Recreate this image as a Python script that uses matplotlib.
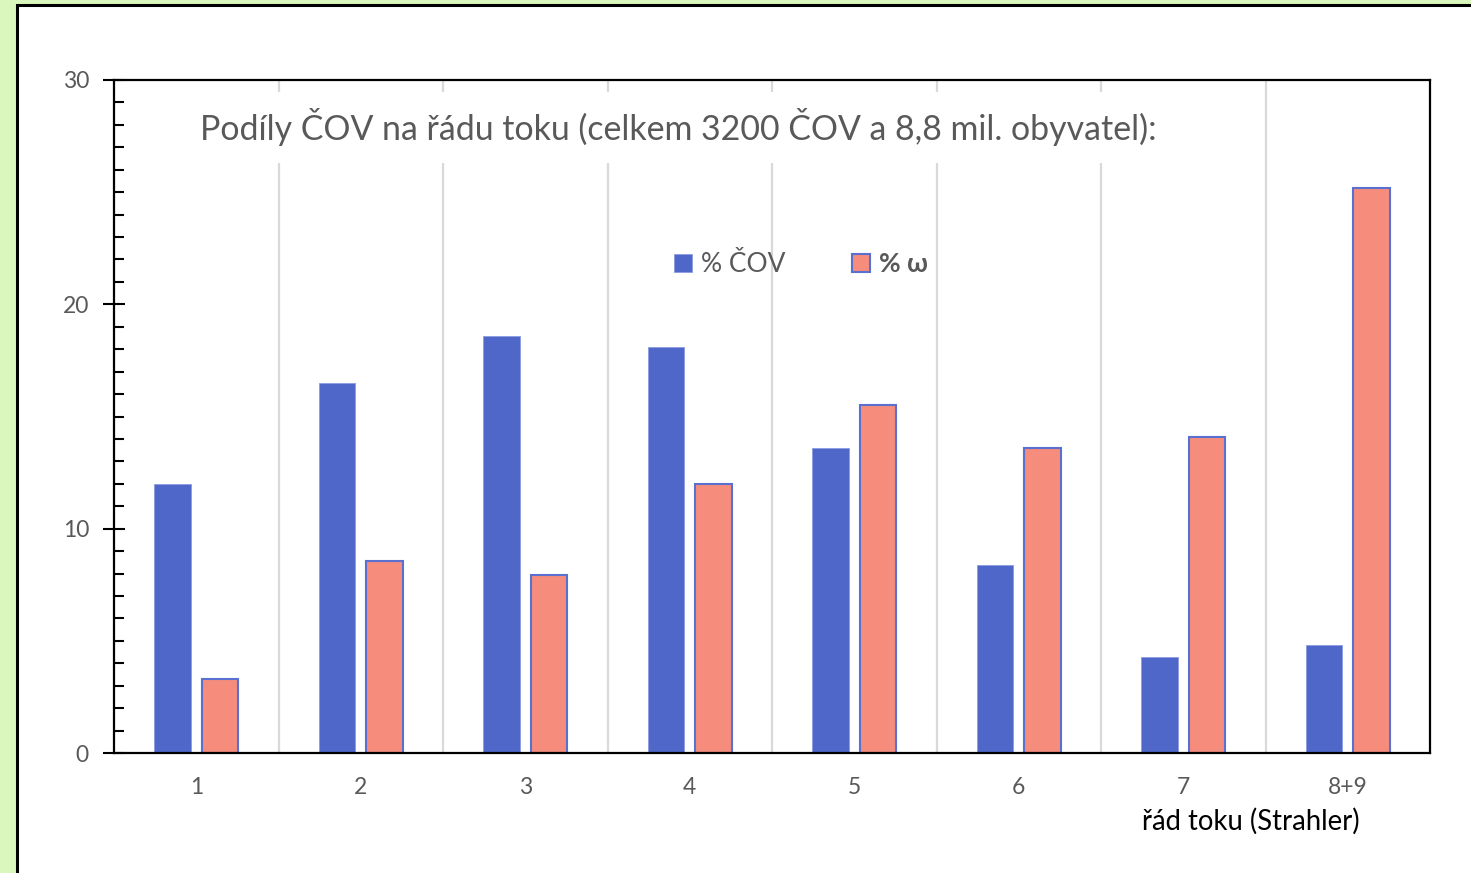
import matplotlib.pyplot as plt
import numpy as np
from matplotlib.patches import Rectangle

plt.rcParams["font.family"] = ["Lato", "DejaVu Sans"]

# Strahler stream order categories
categories = ["1", "2", "3", "4", "5", "6", "7", "8+9"]
pct_cov = [12.0, 16.5, 18.6, 18.1, 13.6, 8.4, 4.3, 4.8]
pct_omega = [3.3, 8.55, 7.95, 12.0, 15.5, 13.6, 14.1, 25.2]

BLUE = "#4F67C8"
SALMON = "#F68C7C"
GREEN_BG = "#DAF7BD"
GREY_TEXT = "#595959"

fig = plt.figure(figsize=(14.71, 8.73), dpi=100, facecolor=GREEN_BG)

# white panel with black frame
panel = Rectangle((17 / 1471, -0.05), 1.1, 1 - 5 / 873 + 0.05,
                  transform=fig.transFigure, facecolor="white",
                  edgecolor="black", linewidth=2.2, zorder=-1)
fig.patches.append(panel)

ax = fig.add_axes([114 / 1471, 1 - 753 / 873, (1430 - 114) / 1471, (753 - 80) / 873])
ax.set_facecolor("white")

x = np.arange(1, len(categories) + 1)
width = 0.222
offset = 0.143

ax.bar(x - offset, pct_cov, width, color=BLUE, edgecolor="#8A9BE0",
       linewidth=0.6, zorder=3, label="% ČOV")
ax.bar(x + offset, pct_omega, width, color=SALMON, edgecolor="#5A70D0",
       linewidth=1.5, zorder=3, label="% ω")

ax.set_xlim(0.5, len(categories) + 0.5)
ax.set_ylim(0, 30)

ax.set_xticks(x)
ax.set_xticklabels(categories)
ax.set_xticks(np.arange(1.5, len(categories), 1), minor=True)
ax.tick_params(axis="x", which="both", length=0, pad=17,
               labelsize=16.5, labelcolor=GREY_TEXT)
ax.grid(True, axis="x", which="minor", color="#D9D9D9", linewidth=1.6, zorder=0)

ax.set_yticks([0, 10, 20, 30])
ax.set_yticks(np.arange(0, 31, 1), minor=True)
ax.tick_params(axis="y", which="major", direction="inout", length=16, width=1.5,
               pad=10, labelsize=16.5, labelcolor=GREY_TEXT)
ax.tick_params(axis="y", which="minor", direction="in", length=7, width=1.5)

for side in ["left", "right", "top", "bottom"]:
    ax.spines[side].set_color("black")
    ax.spines[side].set_linewidth(1.6)
    ax.spines[side].set_zorder(4)

ax.text(0.065, 0.93, "Podíly ČOV na řádu toku (celkem 3200 ČOV a 8,8 mil. obyvatel):",
        transform=ax.transAxes, fontsize=24.4, color=GREY_TEXT, ha="left", va="center",
        bbox=dict(facecolor="white", edgecolor="none", pad=12), zorder=5)

leg = ax.legend(loc="center", bbox_to_anchor=(0.522, 0.7255), ncol=2, frameon=False,
                fontsize=19, handlelength=0.7, handleheight=0.7, handletextpad=0.35,
                columnspacing=2.5, labelcolor=GREY_TEXT)
leg.get_texts()[1].set_fontweight("bold")

ax.set_xlabel("řád toku (Strahler)", fontsize=19.8, color="black")
ax.xaxis.set_label_coords(0.864, -0.082)

fig.savefig("out.png", dpi=100, facecolor=GREEN_BG)
